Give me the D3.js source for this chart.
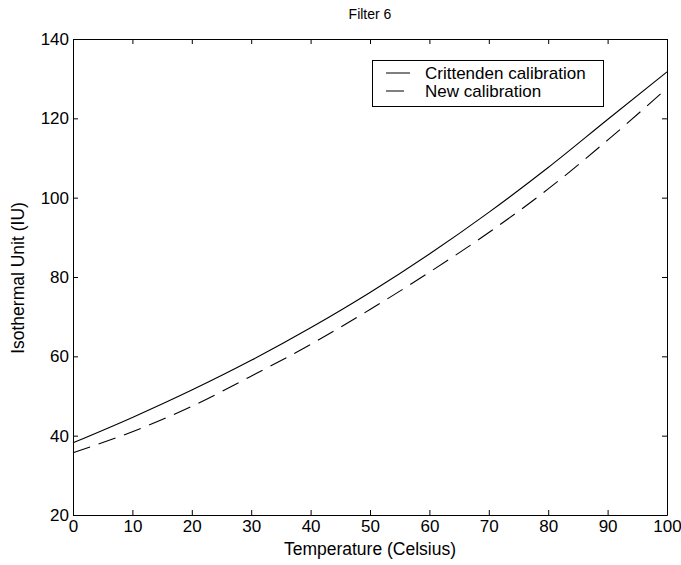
<!DOCTYPE html>
<html><head><meta charset="utf-8">
<script src="https://cdn.jsdelivr.net/npm/d3@7"></script>
<style>body{margin:0;background:#fff}svg{display:block;font-family:"Liberation Sans",Arial,sans-serif}</style>
</head><body><svg id="c" width="681" height="565"></svg>
<script>
const temps = [0,10,20,30,40,50,60,70,80,90,100];
const crittenden = [38.2,44.6,51.5,59.0,67.2,76.1,85.8,96.3,107.6,119.7,131.7];
const newCal = [35.7,41.0,47.4,55.0,63.0,71.8,81.2,91.2,102.2,114.5,127.6];
const xTicks = [0,10,20,30,40,50,60,70,80,90,100];
const yTicks = [20,40,60,80,100,120,140];
const seriesNames = ["Crittenden calibration","New calibration"];

const svg = d3.select("#c");
const L=73, R=667, T=39, B=515;
const x = d3.scaleLinear().domain([0,100]).range([L,R]);
const y = d3.scaleLinear().domain([20,140]).range([B,T]);
const FF = "'Liberation Sans',Arial,sans-serif";

const gx = svg.append("g").attr("transform",`translate(0,${B})`)
  .call(d3.axisBottom(x).tickValues(xTicks).tickSizeInner(-5).tickSizeOuter(0).tickPadding(5));
const gxt = svg.append("g").attr("transform",`translate(0,${T})`)
  .call(d3.axisTop(x).tickValues(xTicks).tickSizeInner(-5).tickSizeOuter(0).tickFormat(""));
const gy = svg.append("g").attr("transform",`translate(${L},0)`)
  .call(d3.axisLeft(y).tickValues(yTicks).tickSizeInner(-5).tickSizeOuter(0).tickPadding(4));
const gyr = svg.append("g").attr("transform",`translate(${R},0)`)
  .call(d3.axisRight(y).tickValues(yTicks).tickSizeInner(-5).tickSizeOuter(0).tickFormat(""));
[gx,gxt,gy,gyr].forEach(g=>{
  g.selectAll("path").attr("stroke","#000").attr("stroke-width",1);
  g.selectAll("line").attr("stroke","#000");
  g.selectAll("text").attr("fill","#000").style("font-size","17px").style("font-family",FF);
});

const line = d3.line().x((d,i)=>x(temps[i])).y(d=>y(d)).curve(d3.curveMonotoneX);
svg.append("path").datum(crittenden).attr("d",line).attr("fill","none").attr("stroke","#000").attr("stroke-width",1.1);
svg.append("path").datum(newCal).attr("d",line).attr("fill","none").attr("stroke","#000").attr("stroke-width",1.1).attr("stroke-dasharray","18,9");

svg.append("text").attr("x",370).attr("y",19).attr("text-anchor","middle").style("font-size","14px").text("Filter 6");
svg.append("text").attr("x",370).attr("y",555).attr("text-anchor","middle").style("font-size","17.5px").text("Temperature (Celsius)");
svg.append("text").attr("transform","translate(24,278) rotate(-90)").attr("text-anchor","middle").style("font-size","17.5px").text("Isothermal Unit (IU)");

const lg = svg.append("g");
lg.append("rect").attr("x",372.5).attr("y",60.5).attr("width",231).attr("height",46).attr("fill","#fff").attr("stroke","#000");
seriesNames.forEach((n,i)=>{
  const yy = 73 + i*18;
  lg.append("line").attr("x1",386).attr("x2",410).attr("y1",yy).attr("y2",yy).attr("stroke","#000")
    .attr("stroke-dasharray", i===1 ? "18,9" : null);
  lg.append("text").attr("x",425).attr("y",yy+6).style("font-size","17px").text(n);
});
</script></body></html>
